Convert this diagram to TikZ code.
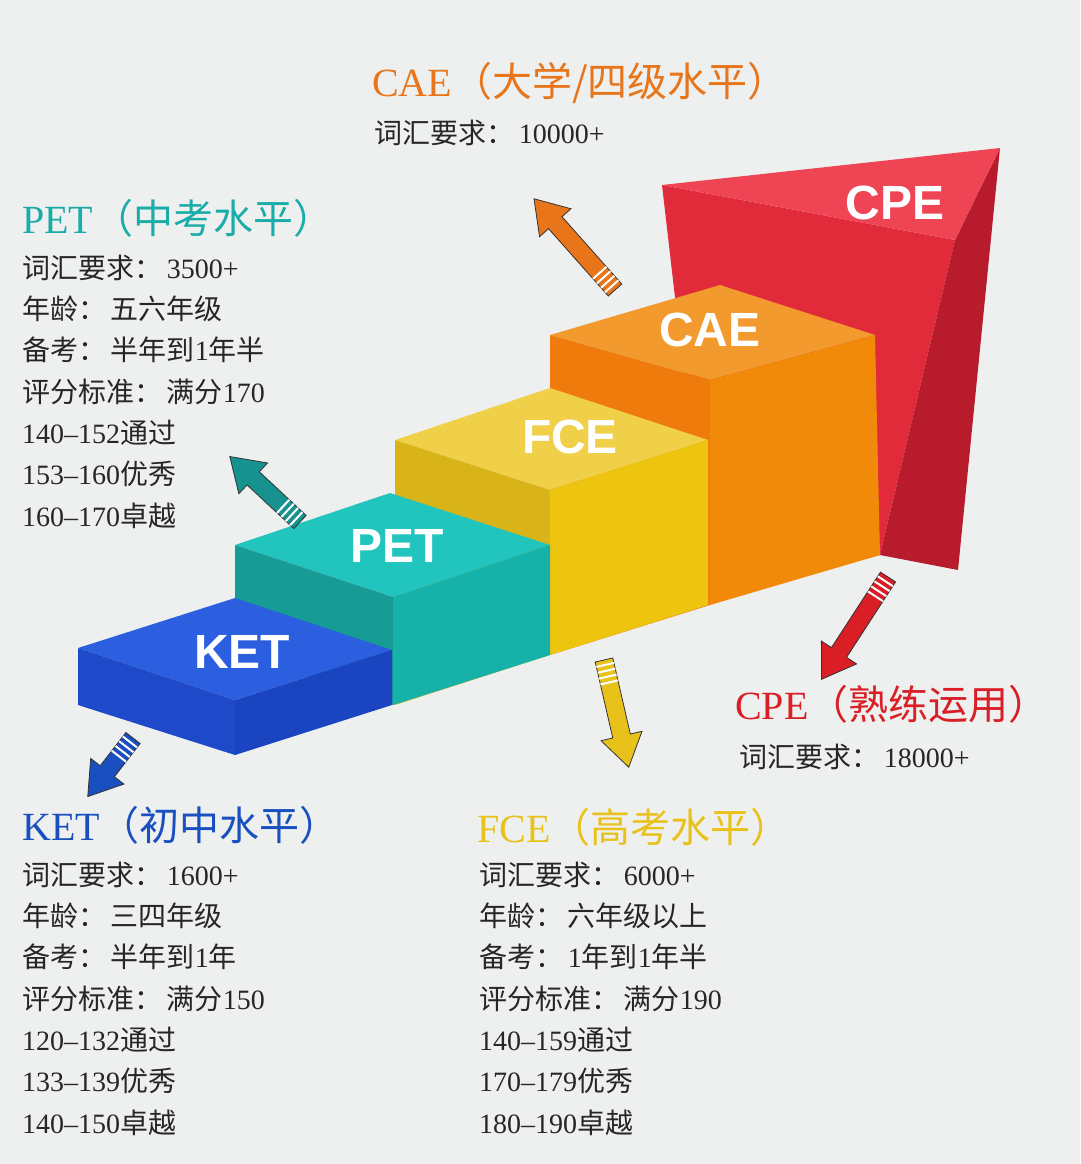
\documentclass[tikz,border=0pt]{standalone}
\usepackage{fontspec}
\setmainfont{Liberation Serif}
\newfontfamily\cjk{Noto Sans CJK SC}
\newfontfamily\blk{Liberation Sans}
\newcommand\zh[1]{{\cjk #1}}
\definecolor{bg}{HTML}{EEF0F0}
\definecolor{cae}{HTML}{E8751A}
\definecolor{pet}{HTML}{1AADA8}
\definecolor{ket}{HTML}{1A4FC0}
\definecolor{fce}{HTML}{E8C21A}
\definecolor{cpe}{HTML}{D91E26}
\definecolor{cpeF}{HTML}{E12A3A}
\definecolor{cpeR}{HTML}{B81C2C}
\definecolor{cpeT}{HTML}{EE4454}
\definecolor{caeT}{HTML}{F29A2E}
\definecolor{caeL}{HTML}{EE7B0C}
\definecolor{caeR}{HTML}{F08A08}
\definecolor{fceT}{HTML}{F0D048}
\definecolor{fceL}{HTML}{D8B418}
\definecolor{fceR}{HTML}{EEC50E}
\definecolor{petT}{HTML}{22C4BE}
\definecolor{petL}{HTML}{169C94}
\definecolor{petR}{HTML}{16B2AA}
\definecolor{ketT}{HTML}{2B5FE0}
\definecolor{ketL}{HTML}{1E49C8}
\definecolor{ketR}{HTML}{1A44C0}
\newcommand\blockarrow[5]{% x y angle length color
\begin{scope}[shift={(#1,#2)},rotate=-#3]
\fill[#5,draw=black!80,line width=0.8pt,line join=miter] (0,-9)--(#4-32,-9)--(#4-32,-21)--(#4,0)--(#4-32,21)--(#4-32,9)--(0,9)--cycle;
\foreach \s in {5,11,17,23}{\draw[white,line width=2pt] (\s,-9)--(\s,9);}
\end{scope}}
\begin{document}
\begin{tikzpicture}[x=1pt,y=-1pt,
  title/.style={anchor=base west,font=\fontsize{40}{42}\selectfont,inner sep=0pt},
  line/.style={anchor=base west,font=\fontsize{28}{30}\selectfont,inner sep=0pt,text=black!85},
  lab/.style={font=\blk\bfseries\fontsize{48}{50}\selectfont,text=white,inner sep=0pt}]
\fill[bg] (0,0) rectangle (1080,1164);
\useasboundingbox (0,0) rectangle (1080,1164);
% CPE wedge
\fill[cpeF] (662,185)--(955,240)--(880,555)--(710,600)--cycle;
\fill[cpeR] (955,240)--(1000,148)--(958,570)--(880,555)--cycle;
\fill[cpeT] (662,185)--(1000,148)--(955,240)--cycle;
% CAE
\fill[caeT] (550,335)--(720,285)--(875,335)--(710,380)--cycle;
\fill[caeL] (550,335)--(710,380)--(710,605)--(550,655)--cycle;
\fill[caeR] (710,380)--(875,335)--(880,555)--(710,605)--cycle;
% FCE
\fill[fceT] (395,440)--(550,388)--(708,440)--(550,490)--cycle;
\fill[fceL] (395,440)--(550,490)--(550,655)--(395,705)--cycle;
\fill[fceR] (550,490)--(708,440)--(708,605)--(550,655)--cycle;
% PET
\fill[petT] (235,545)--(390,493)--(550,545)--(393,597)--cycle;
\fill[petL] (235,545)--(393,597)--(393,705)--(235,655)--cycle;
\fill[petR] (393,597)--(550,545)--(550,655)--(393,705)--cycle;
% KET
\fill[ketT] (78,648)--(235,598)--(392,650)--(235,700)--cycle;
\fill[ketL] (78,648)--(235,700)--(235,755)--(78,705)--cycle;
\fill[ketR] (235,700)--(392,650)--(392,705)--(235,755)--cycle;
% labels
\node[lab] (lcpe) at (895,203) {CPE};
\node[lab] (lcae) at (710,330) {CAE};
\node[lab] (lfce) at (570,437) {FCE};
\node[lab] (lpet) at (397,546) {PET};
\node[lab] (lket) at (242,652) {KET};
% arrows
\blockarrow{615}{290}{-131.6}{122}{cae}
\blockarrow{300}{522}{-137}{96}{pet!85!black}
\blockarrow{133}{738}{127.7}{74}{ket}
\blockarrow{604}{660}{77}{110}{fce}
\blockarrow{888}{577}{123}{122}{cpe}
% CAE text
\node[title,text=cae] (tcae) at (372,96) {CAE\zh{（大学/四级水平）}};
\node[line] (cae1) at (374,143) {\zh{词汇要求：}\,10000+};
% PET
\node[title,text=pet] (tpet) at (22,233) {PET\zh{（中考水平）}};
\foreach \t [count=\i] in {{\zh{词汇要求：}\,3500+},{\zh{年龄：\,五六年级}},{\zh{备考：\,半年到}1\zh{年半}},{\zh{评分标准：\,满分}170},{140--152\zh{通过}},{153--160\zh{优秀}},{160--170\zh{卓越}}}
  \node[line] (pet\i) at (22,{237+41.3*\i}) {\t};
% KET
\node[title,text=ket] (tket) at (22,840) {KET\zh{（初中水平）}};
\foreach \t [count=\i] in {{\zh{词汇要求：}\,1600+},{\zh{年龄：\,三四年级}},{\zh{备考：\,半年到}1\zh{年}},{\zh{评分标准：\,满分}150},{120--132\zh{通过}},{133--139\zh{优秀}},{140--150\zh{卓越}}}
  \node[line] (ket\i) at (22,{844+41.3*\i}) {\t};
% FCE
\node[title,text=fce] (tfce) at (477,842) {FCE\zh{（高考水平）}};
\foreach \t [count=\i] in {{\zh{词汇要求：}\,6000+},{\zh{年龄：\,六年级以上}},{\zh{备考：}\,1\zh{年到}1\zh{年半}},{\zh{评分标准：\,满分}190},{140--159\zh{通过}},{170--179\zh{优秀}},{180--190\zh{卓越}}}
  \node[line] (fce\i) at (479,{844+41.3*\i}) {\t};
% CPE
\node[title,text=cpe] (tcpe) at (735,719) {CPE\zh{（熟练运用）}};
\node[line] (cpe1) at (739,767) {\zh{词汇要求：}\,18000+};
\end{tikzpicture}
\end{document}
